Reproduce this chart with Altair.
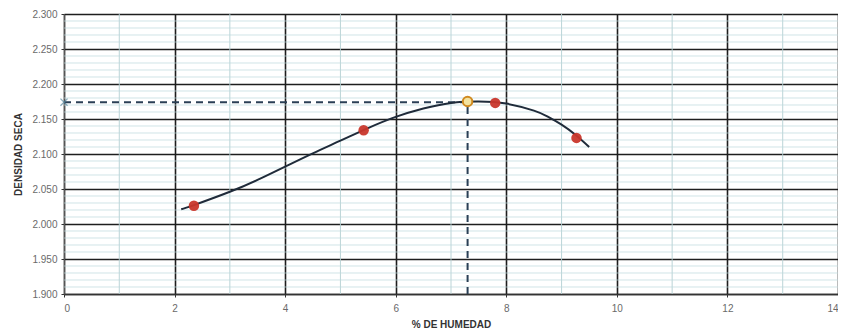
import altair as alt
import pandas as pd

# measured points
pt_x = [2.35, 5.42, 7.80, 9.27]
pt_y = [2.026, 2.134, 2.173, 2.123]

# optimum (max density) point
opt_x = [7.30]
opt_y = [2.175]

# fitted curve
curve_x = [2.12, 2.35, 3.0, 3.5, 4.0, 4.5, 5.0, 5.5, 6.0, 6.5, 7.0, 7.5, 8.0, 8.5, 8.75, 9.0, 9.25, 9.5]
curve_y = [2.021, 2.027, 2.046, 2.063, 2.082, 2.101, 2.119, 2.137, 2.153, 2.165, 2.173, 2.175, 2.172, 2.162, 2.1535, 2.142, 2.1275, 2.110]

# dashed reference lines
ref_h_x = [0.0, 7.30]
ref_h_y = [2.174, 2.174]
ref_v_x = [7.30, 7.30]
ref_v_y = [1.900, 2.175]

x_major = [0, 2, 4, 6, 8, 10, 12, 14]
x_minor = [1, 3, 5, 7, 9, 11, 13]
y_major = [1.90, 1.95, 2.00, 2.05, 2.10, 2.15, 2.20, 2.25, 2.30]
y_minor = [round(1.90 + 0.01 * i, 2) for i in range(41) if i % 5 != 0]

X_DOM = [0, 14]
Y_DOM = [1.9, 2.3]

curve_df = pd.DataFrame({"x": curve_x, "y": curve_y})
pts_df = pd.DataFrame({"x": pt_x, "y": pt_y})
opt_df = pd.DataFrame({"x": opt_x, "y": opt_y})
h_df = pd.DataFrame({"x": ref_h_x, "y": ref_h_y})
v_df = pd.DataFrame({"x": ref_v_x, "y": ref_v_y})
mark_df = pd.DataFrame({"x": [0.0], "y": [2.174]})
xmin_df = pd.DataFrame({"x": x_minor})
ymin_df = pd.DataFrame({"y": y_minor})

LBL = dict(labelFont="Liberation Sans", labelFontSize=10, labelColor="#6a6a6a")
TTL = dict(titleFont="Liberation Sans", titleFontSize=10, titleFontWeight="bold", titleColor="#333333")

xs = alt.Scale(domain=X_DOM, nice=False, zero=False)
ys = alt.Scale(domain=Y_DOM, nice=False, zero=False)

X = alt.X("x:Q", scale=xs, title="% DE HUMEDAD",
          axis=alt.Axis(values=x_major, grid=True, gridColor="#1e1e1e", gridWidth=1.6,
                        format="d", titlePadding=6, labelPadding=6,
                        ticks=True, tickSize=3, tickColor="#333333",
                        domainColor="#333333", domainWidth=1.5, **LBL, **TTL))
Y = alt.Y("y:Q", scale=ys, title="DENSIDAD SECA",
          axis=alt.Axis(values=y_major, grid=True, gridColor="#1e1e1e", gridWidth=1.6,
                        format=".3f", titlePadding=8, labelPadding=4,
                        ticks=True, tickSize=3, tickColor="#333333",
                        domainColor="#555555", domainWidth=1.2, **LBL, **TTL))

vminor = alt.Chart(xmin_df).mark_rule(color="#b3cfd3", strokeWidth=0.9).encode(x=X)
hminor = alt.Chart(ymin_df).mark_rule(color="#bcd8dc", strokeWidth=0.7).encode(y=Y)

curve = alt.Chart(curve_df).mark_line(color="#1f2b3a", strokeWidth=2, interpolate="natural").encode(x=X, y=Y)
hline = alt.Chart(h_df).mark_line(color="#2a3f55", strokeWidth=2, strokeDash=[7, 5]).encode(x=X, y=Y)
vline = alt.Chart(v_df).mark_line(color="#2a3f55", strokeWidth=2, strokeDash=[7, 5]).encode(x=X, y=Y)
pts = alt.Chart(pts_df).mark_circle(size=110, color="#c9372c", opacity=0.95).encode(x=X, y=Y)
opt = alt.Chart(opt_df).mark_point(size=90, filled=True, fill="#f4e3a0", stroke="#d08a20",
                                   strokeWidth=2, opacity=1).encode(x=X, y=Y)
xmark = alt.Chart(mark_df).mark_point(shape="M-1,-1L1,1M-1,1L1,-1", size=50, color="#5a8aa0",
                                      strokeWidth=1.3, filled=False).encode(x=X, y=Y)

chart = alt.layer(vminor, hminor, hline, vline, curve, pts, opt, xmark).properties(
    width=774, height=280,
    autosize=alt.AutoSizeParams(type="none"),
    padding={"left": 56, "top": 6, "right": 0, "bottom": 34},
).configure_view(
    fill="#cfe8ec", stroke="#555555", strokeWidth=1.5
).configure(background="white")

chart.save("out.html", embed_options={"renderer": "svg", "actions": False})
